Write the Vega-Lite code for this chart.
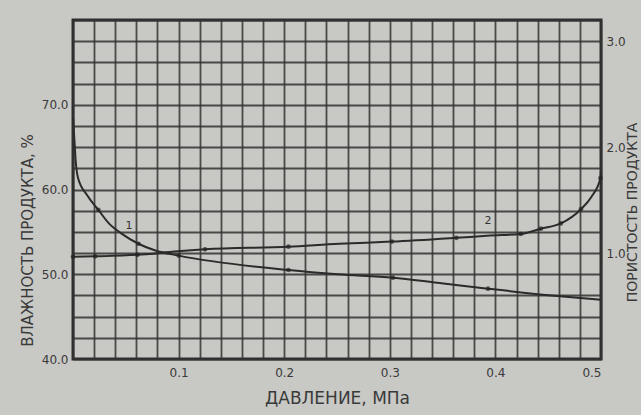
{
  "$schema": "https://vega.github.io/schema/vega-lite/v6.json",
  "width": 528,
  "height": 339,
  "autosize": {"type": "none"},
  "padding": {"left": 73, "top": 20, "right": 40, "bottom": 56},
  "background": "#c8c8c4",
  "config": {
    "view": {"stroke": "#2e2e2e", "strokeWidth": 3},
    "font": "DejaVu Sans",
    "axis": {"domain": false, "ticks": false, "labelColor": "#3a3a3a", "titleColor": "#3a3a3a", "labelFontSize": 12, "titleFontWeight": "normal", "gridColor": "#333333", "gridWidth": 1.8, "gridOpacity": 0.85}
  },
  "datasets": {
    "c1": [
      {"p": 0, "v": 68.5, "m": 0},
      {"p": 0.0015, "v": 65.5, "m": 0},
      {"p": 0.0024, "v": 63.6, "m": 0},
      {"p": 0.0047, "v": 61.4, "m": 0},
      {"p": 0.0136, "v": 59.3, "m": 0},
      {"p": 0.024, "v": 57.6, "m": 1},
      {"p": 0.034, "v": 56.0, "m": 0},
      {"p": 0.046, "v": 54.8, "m": 0},
      {"p": 0.062, "v": 53.6, "m": 1},
      {"p": 0.078, "v": 52.8, "m": 0},
      {"p": 0.1, "v": 52.2, "m": 1},
      {"p": 0.204, "v": 50.5, "m": 1},
      {"p": 0.251, "v": 50.0, "m": 0},
      {"p": 0.303, "v": 49.6, "m": 1},
      {"p": 0.345, "v": 49.0, "m": 0},
      {"p": 0.393, "v": 48.3, "m": 1},
      {"p": 0.453, "v": 47.5, "m": 0},
      {"p": 0.5, "v": 47.0, "m": 0}
    ],
    "c2": [
      {"p": 0, "v": 0.965, "m": 1},
      {"p": 0.021, "v": 0.969, "m": 1},
      {"p": 0.061, "v": 0.983, "m": 1},
      {"p": 0.099, "v": 1.017, "m": 0},
      {"p": 0.125, "v": 1.035, "m": 1},
      {"p": 0.204, "v": 1.06, "m": 1},
      {"p": 0.252, "v": 1.088, "m": 0},
      {"p": 0.302, "v": 1.108, "m": 1},
      {"p": 0.363, "v": 1.144, "m": 1},
      {"p": 0.395, "v": 1.165, "m": 0},
      {"p": 0.424, "v": 1.18, "m": 1},
      {"p": 0.443, "v": 1.23, "m": 1},
      {"p": 0.462, "v": 1.28, "m": 1},
      {"p": 0.481, "v": 1.414, "m": 1},
      {"p": 0.491, "v": 1.532, "m": 0},
      {"p": 0.4995, "v": 1.708, "m": 1},
      {"p": 0.5, "v": 1.78, "m": 0}
    ],
    "l1": [{"p": 0.053, "v": 55.7, "t": "1"}],
    "l2": [{"p": 0.393, "v": 1.3, "t": "2"}]
  },
  "encoding": {
    "x": {"field": "p", "type": "quantitative", "scale": {"domain": [0, 0.5], "nice": false, "zero": false},
      "axis": {"values": [0,0.02,0.04,0.06,0.08,0.1,0.12,0.14,0.16,0.18,0.2,0.22,0.24,0.26,0.28,0.3,0.32,0.34,0.36,0.38,0.4,0.42,0.44,0.46,0.48,0.5],
        "labelExpr": "datum.value > 0.05 && abs(datum.value*10 - round(datum.value*10)) < 0.01 ? format(datum.value, '.1f') : ''",
        "labelPadding": 8, "title": "ДАВЛЕНИЕ, МПа", "titleFontSize": 17, "titlePadding": 12}}
  },
  "layer": [
    {
      "encoding": {
        "y": {"field": "v", "type": "quantitative", "scale": {"domain": [40, 80], "nice": false, "zero": false},
          "axis": {"orient": "left", "values": [40,42.5,45,47.5,50,52.5,55,57.5,60,62.5,65,67.5,70,72.5,75,77.5,80],
            "labelExpr": "datum.value % 10 == 0 && datum.value < 80 ? format(datum.value, '.1f') : ''",
            "labelPadding": 5, "title": "ВЛАЖНОСТЬ ПРОДУКТА, %", "titleFontSize": 15,
            "titleAngle": 270, "titleX": -46, "titleY": 220, "titleAlign": "center", "titleBaseline": "middle"}}
      },
      "layer": [
        {
          "data": {"name": "c1"},
          "mark": {"type": "line", "interpolate": "monotone", "color": "#2b2b2b", "strokeWidth": 2}
        },
        {
          "data": {"name": "c1"},
          "transform": [{"filter": "datum.m == 1"}],
          "mark": {"type": "point", "filled": true, "color": "#222222", "size": 22}
        },
        {
          "data": {"name": "l1"},
          "mark": {"type": "text", "fontSize": 11, "color": "#333333"},
          "encoding": {"text": {"field": "t"}}
        }
      ]
    },
    {
      "encoding": {
        "y": {"field": "v", "type": "quantitative", "scale": {"domain": [0, 3.2], "nice": false, "zero": false},
          "axis": {"orient": "right", "values": [1, 2, 3], "format": ".1f", "grid": false, "labelPadding": 5,
            "title": "ПОРИСТОСТЬ ПРОДУКТА", "titleFontSize": 14, "titleAngle": 270, "titleX": 31, "titleY": 192,
            "titleAlign": "center", "titleBaseline": "middle"}}
      },
      "layer": [
        {
          "data": {"name": "c2"},
          "mark": {"type": "line", "interpolate": "monotone", "color": "#2b2b2b", "strokeWidth": 2}
        },
        {
          "data": {"name": "c2"},
          "transform": [{"filter": "datum.m == 1"}],
          "mark": {"type": "point", "filled": true, "color": "#222222", "size": 22}
        },
        {
          "data": {"name": "l2"},
          "mark": {"type": "text", "fontSize": 11, "color": "#333333"},
          "encoding": {"text": {"field": "t"}}
        }
      ]
    }
  ],
  "resolve": {"scale": {"y": "independent"}, "axis": {"y": "independent"}}
}
